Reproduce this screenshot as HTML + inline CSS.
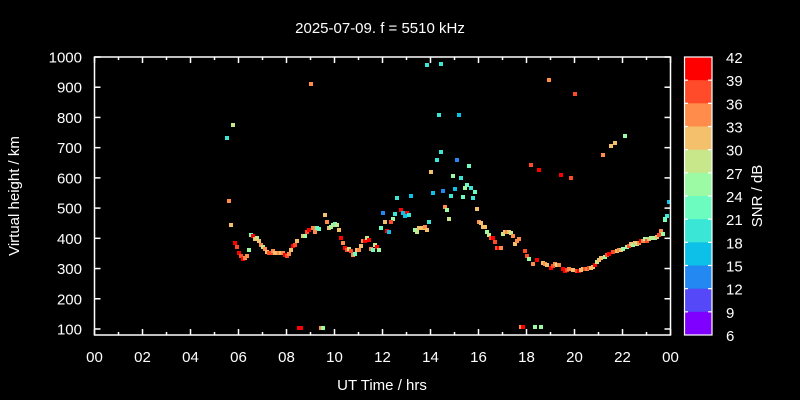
<!DOCTYPE html>
<html><head><meta charset="utf-8"><style>
html,body{margin:0;padding:0;background:#000;}
svg{display:block;}
text{font-family:"Liberation Sans",sans-serif;fill:#fff;}
</style></head><body>
<svg width="800" height="400" xmlns="http://www.w3.org/2000/svg">
<rect width="800" height="400" fill="#000"/>
<text x="380" y="33" font-size="15" text-anchor="middle">2025-07-09. f = 5510 kHz</text>
<g id="pts"></g>
<g stroke="#fff" stroke-width="1.5" fill="none">
<rect x="94.5" y="57" width="576" height="278"/>
</g>
<g id="ax"></g>
<g id="cb"></g>
<text x="382" y="390" font-size="15" text-anchor="middle">UT Time / hrs</text>
<text transform="translate(19,196) rotate(-90)" font-size="15" text-anchor="middle">Virtual height / km</text>
<text transform="translate(762,196) rotate(-90)" font-size="15" text-anchor="middle">SNR / dB</text>
<script>
var NS="http://www.w3.org/2000/svg";
function el(t,a,p,txt){var e=document.createElementNS(NS,t);for(var k in a)e.setAttribute(k,a[k]);if(txt!==undefined)e.textContent=txt;document.getElementById(p)||0;(typeof p=="string"?document.getElementById(p):p).appendChild(e);return e;}
var ax="ax";
function yv(v){return 57+(1000-v)*0.3022;}
for(var v=100;v<=1000;v+=100){var y=yv(v);
el("line",{x1:94.5,y1:y,x2:100.5,y2:y,stroke:"#fff","stroke-width":1.5},ax);
el("line",{x1:670.5,y1:y,x2:664.5,y2:y,stroke:"#fff","stroke-width":1.5},ax);
el("text",{x:82,y:y+5.5,"font-size":15,"text-anchor":"end"},ax,String(v));}
for(var h=0;h<=24;h++){var x=94.5+h*24;var L=(h%2==0)?6:3;
el("line",{x1:x,y1:335,x2:x,y2:335-L,stroke:"#fff","stroke-width":1.5},ax);
el("line",{x1:x,y1:57,x2:x,y2:57+L,stroke:"#fff","stroke-width":1.5},ax);
if(h%2==0){var s=(h%24<10?"0":"")+(h%24);el("text",{x:x,y:362,"font-size":15,"text-anchor":"middle"},ax,s);}}
var C={R:"#ff0000",r:"#ff4b2a",o:"#ff8c4a",y:"#f4c06c",g:"#c8e68a",G:"#9cfaa4",t:"#6cfcc0",c:"#3ae6d6",b:"#0cc0e8",B:"#2488f2",P:"#5448f8",V:"#8000ff"};
var cbc=["R","r","o","y","g","G","t","c","b","B","P","V"];
var seg=278/12;
for(var i=0;i<12;i++){el("rect",{x:684,y:57+i*seg,width:28,height:seg+0.5,fill:C[cbc[i]]},"cb");}
el("rect",{x:684.5,y:57,width:27.5,height:278,fill:"none",stroke:"#fff","stroke-width":1.2},"cb");
for(var i=0;i<=12;i++){var y=57+i*seg;
if(i>0&&i<12){el("line",{x1:684,y1:y,x2:688,y2:y,stroke:"#fff","stroke-width":1.2},"cb");el("line",{x1:712,y1:y,x2:708,y2:y,stroke:"#fff","stroke-width":1.2},"cb");}
el("text",{x:726,y:y+6,"font-size":15},"cb",String(42-3*i));}
var P="229,201,o 231,225,y 235,243,R 237,247,r 239,253,R 241,256,r 243,259,R 245,258,o 247,256,o 249,250,G 251,235,t 253,236,R 255,239,y 257,238,g 259,241,y 261,245,o 263,247,g 265,249,o 267,252,y 269,253,r 271,253,r 273,251,o 275,253,y 277,253,y 279,253,o 281,253,y 283,253,o 285,255,R 287,256,r 289,254,o 291,250,y 293,246,R 295,245,r 297,241,y 303,236,y 305,236,G 307,232,r 309,230,R 313,228,o 315,232,o 317,228,t 319,229,t 325,215,y 327,222,o 329,228,y 331,227,G 333,225,g 335,224,t 337,225,g 339,230,y 341,238,R 343,243,o 345,248,R 347,250,r 349,249,g 351,251,r 353,255,o 355,254,t 357,250,y 359,250,o 361,246,y 363,241,o 365,241,R 367,238,g 369,240,R 371,249,o 373,250,t 375,245,g 377,247,R 379,250,G 299,328,R 301,328,R 321,328,o 323,328,G 439,115,c 459,115,b 441,152,c 437,160,c 457,160,B 469,166,t 431,172,y 453,176,G 461,178,c 467,185,t 471,188,c 465,188,G 475,192,t 433,193,b 443,191,B 455,189,b 451,196,c 463,197,t 473,198,c 397,198,c 411,196,b 477,209,y 445,207,o 447,210,G 449,219,g 383,213,B 401,210,R 403,213,b 407,213,R 409,215,c 405,216,b 395,214,c 393,219,G 385,222,y 391,222,r 429,222,c 381,228,t 387,231,R 389,232,b 415,230,G 417,232,g 419,228,y 421,228,y 423,228,y 425,227,o 427,230,y 479,222,o 481,223,y 483,227,y 485,227,y 487,232,G 489,235,g 491,238,r 493,238,R 495,242,r 497,248,r 499,248,R 501,248,o 503,234,g 505,232,y 507,232,o 509,232,y 511,233,g 513,236,o 515,244,y 517,241,o 519,239,o 525,251,r 527,256,r 529,259,G 533,264,o 537,260,R 543,263,y 545,264,o 547,265,y 551,268,R 553,266,r 555,264,o 557,265,g 559,265,o 563,269,R 565,271,R 567,270,r 569,269,o 573,270,y 577,271,r 579,271,R 581,270,y 583,269,y 585,269,r 587,269,o 589,268,r 591,268,y 593,267,y 595,265,R 597,262,g 599,260,y 601,258,y 605,257,G 607,255,r 609,254,R 613,252,r 617,251,y 619,250,o 621,250,y 623,249,G 627,247,G 629,246,r 631,244,y 633,245,G 635,243,y 637,244,g 639,243,o 641,241,R 643,241,o 645,239,G 647,241,r 649,239,y 651,238,G 653,238,g 655,238,G 657,237,y 659,235,r 661,231,o 663,234,G 665,220,G 521,327,o 523,327,R 535,327,G 541,327,G 669,202,b 667,216,c 665,219,t 625,136,G 615,143,y 611,146,y 603,155,o 227,138,c 233,125,g 311,84,o 549,80,o 575,94,r 531,165,r 539,170,R 561,175,R 571,178,r 427,65,c 441,64,c";
P.split(" ").forEach(function(s){var a=s.split(",");el("rect",{x:+a[0]-2,y:+a[1]-2,width:4,height:4,fill:C[a[2]]},"pts");});
</script>
</svg>
</body></html>
